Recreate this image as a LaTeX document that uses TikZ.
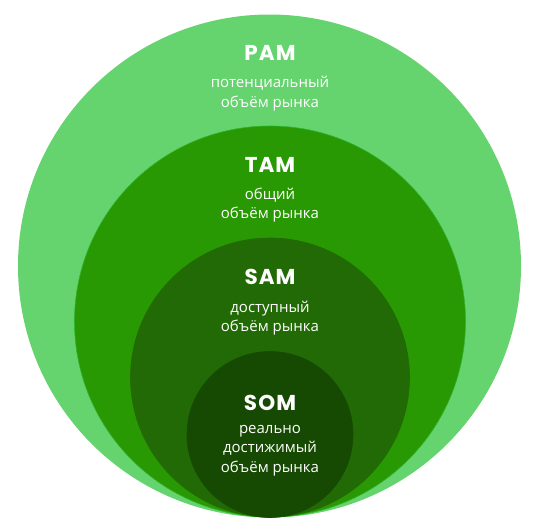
\documentclass[tikz,border=0pt]{standalone}
\usepackage{fontspec}
\setmainfont{Open Sans}
\newfontfamily\headfont{Poppins}[LetterSpace=5]
\definecolor{pamc}{HTML}{65D36E}
\definecolor{tamc}{HTML}{289803}
\definecolor{samc}{HTML}{216A05}
\definecolor{somc}{HTML}{164A03}
\definecolor{edgec}{HTML}{2DB52A}
\tikzset{
  ring/.style={draw=edgec, line width=0.6pt},
  head/.style={inner sep=0pt, text=white, font=\headfont\bfseries\fontsize{21.5}{21.5}\selectfont},
  body/.style={inner sep=0pt, text=white, align=center, font=\fontsize{15}{19.5}\selectfont}
}
\begin{document}
\begin{tikzpicture}[x=1pt,y=-1pt]
\useasboundingbox (0,0) rectangle (554,531);
\fill[pamc] (269.5,266) circle (251.5);
\filldraw[ring, fill=tamc] (270,321.5) circle (195.5);
\filldraw[ring, fill=samc, draw=samc] (270,377.5) circle (139.5);
\filldraw[ring, fill=somc, draw=somc] (270,434.5) circle (83);
\node[head] (pam) at (270,53) {PAM};
\node[body] (pamd) at (270,93.5) {потенциальный\\объём рынка};
\node[head] (tam) at (270,165) {TAM};
\node[body] (tamd) at (270,205) {общий\\объём рынка};
\node[head] (sam) at (270,277) {SAM};
\node[body] (samd) at (270,318) {доступный\\объём рынка};
\node[head] (som) at (270,403) {SOM};
\node[body] (somd) at (270,450.5) {реально\\достижимый\\объём рынка};
\end{tikzpicture}
\end{document}
